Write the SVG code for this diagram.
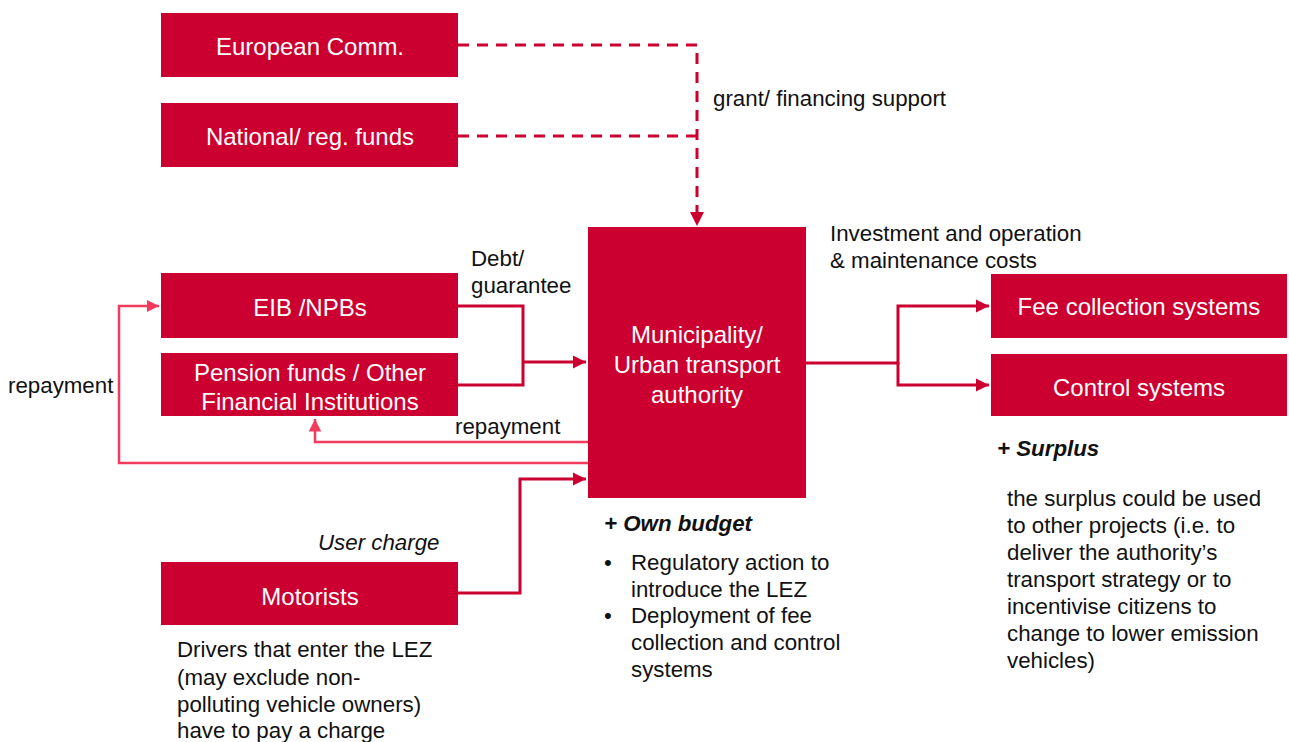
<svg xmlns="http://www.w3.org/2000/svg" width="1289" height="742" viewBox="0 0 1289 742">
<defs>
<style>
.box{fill:#CC0030;}
.wt{fill:#FFFFFF;font-family:"Liberation Sans",Arial,sans-serif;font-size:24px;text-anchor:middle;}
.bt{fill:#111111;font-family:"Liberation Sans",Arial,sans-serif;font-size:22.3px;}
.bi{font-weight:bold;font-style:italic;}
.it{font-style:italic;}
.dk{fill:none;stroke:#CC0030;stroke-width:3;}
.pk{fill:none;stroke:#F23A5C;stroke-width:2.5;}
.ds{fill:none;stroke:#CC0030;stroke-width:3;stroke-dasharray:11 8;}
</style>
<marker id="ad" viewBox="0 0 10 10" refX="10" refY="5" markerWidth="4.5" markerHeight="4.5" markerUnits="strokeWidth" orient="auto"><path d="M0,0 L10,5 L0,10 Z" fill="#CC0030"/></marker>
<marker id="ap" viewBox="0 0 10 10" refX="10" refY="5" markerWidth="5" markerHeight="5" markerUnits="strokeWidth" orient="auto"><path d="M0,0 L10,5 L0,10 Z" fill="#F23A5C"/></marker>
</defs>
<rect width="1289" height="742" fill="#FFFFFF"/>

<g id="connectors">
<path class="ds" d="M458,45 H697 V212"/>
<path class="ds" d="M458,136 H697"/>
<path d="M690,212 L704,212 L697,226 Z" fill="#CC0030"/>
<path class="dk" d="M458,306 H523 V385 H458"/>
<path class="dk" d="M523,362 H586" marker-end="url(#ad)"/>
<path class="pk" d="M588,442 H315 V419" marker-end="url(#ap)"/>
<path class="pk" d="M588,463 H119 V306 H159" marker-end="url(#ap)"/>
<path class="dk" d="M458,593 H520 V479 H586" marker-end="url(#ad)"/>
<path class="dk" d="M806,363 H898 V306 H989" marker-end="url(#ad)"/>
<path class="dk" d="M898,363 V385 H989" marker-end="url(#ad)"/>
</g>

<g id="european-comm"><rect class="box" x="161" y="13" width="297" height="64"/><text class="wt" x="310" y="55">European Comm.</text></g>
<g id="national-funds"><rect class="box" x="161" y="103" width="297" height="64"/><text class="wt" x="310" y="145">National/ reg. funds</text></g>
<g id="eib"><rect class="box" x="161" y="273" width="297" height="65"/><text class="wt" x="310" y="316">EIB /NPBs</text></g>
<g id="pension"><rect class="box" x="161" y="353" width="297" height="63"/><text class="wt" x="310" y="381">Pension funds / Other</text><text class="wt" x="310" y="410">Financial Institutions</text></g>
<g id="motorists"><rect class="box" x="161" y="562" width="297" height="63"/><text class="wt" x="310" y="605">Motorists</text></g>
<g id="municipality"><rect class="box" x="588" y="227" width="218" height="271"/><text class="wt" x="697" y="343">Municipality/</text><text class="wt" x="697" y="373">Urban transport</text><text class="wt" x="697" y="403">authority</text></g>
<g id="fee-collection"><rect class="box" x="991" y="274" width="296" height="64"/><text class="wt" x="1139" y="315">Fee collection systems</text></g>
<g id="control"><rect class="box" x="991" y="354" width="296" height="62"/><text class="wt" x="1139" y="396">Control systems</text></g>

<g id="labels">
<text class="bt" x="713" y="106">grant/ financing support</text>
<text class="bt" x="830" y="241">Investment and operation</text>
<text class="bt" x="830" y="268">&amp; maintenance costs</text>
<text class="bt" x="471" y="266">Debt/</text>
<text class="bt" x="471" y="293">guarantee</text>
<text class="bt" x="8" y="393">repayment</text>
<text class="bt" x="455" y="434">repayment</text>
<text class="bt it" x="318" y="550">User charge</text>
<text class="bt" x="177" y="657">Drivers that enter the LEZ</text>
<text class="bt" x="177" y="685">(may exclude non-</text>
<text class="bt" x="177" y="712">polluting vehicle owners)</text>
<text class="bt" x="177" y="738">have to pay a charge</text>
<text class="bt bi" x="604" y="531">+ Own budget</text>
<text class="bt" x="604" y="570">•</text>
<text class="bt" x="631" y="570">Regulatory action to</text>
<text class="bt" x="631" y="597">introduce the LEZ</text>
<text class="bt" x="604" y="623">•</text>
<text class="bt" x="631" y="623">Deployment of fee</text>
<text class="bt" x="631" y="650">collection and control</text>
<text class="bt" x="631" y="677">systems</text>
<text class="bt bi" x="997" y="456">+ Surplus</text>
<text class="bt" x="1007" y="506">the surplus could be used</text>
<text class="bt" x="1007" y="533">to other projects (i.e. to</text>
<text class="bt" x="1007" y="560">deliver the authority’s</text>
<text class="bt" x="1007" y="587">transport strategy or to</text>
<text class="bt" x="1007" y="614">incentivise citizens to</text>
<text class="bt" x="1007" y="641">change to lower emission</text>
<text class="bt" x="1007" y="668">vehicles)</text>
</g>
</svg>
